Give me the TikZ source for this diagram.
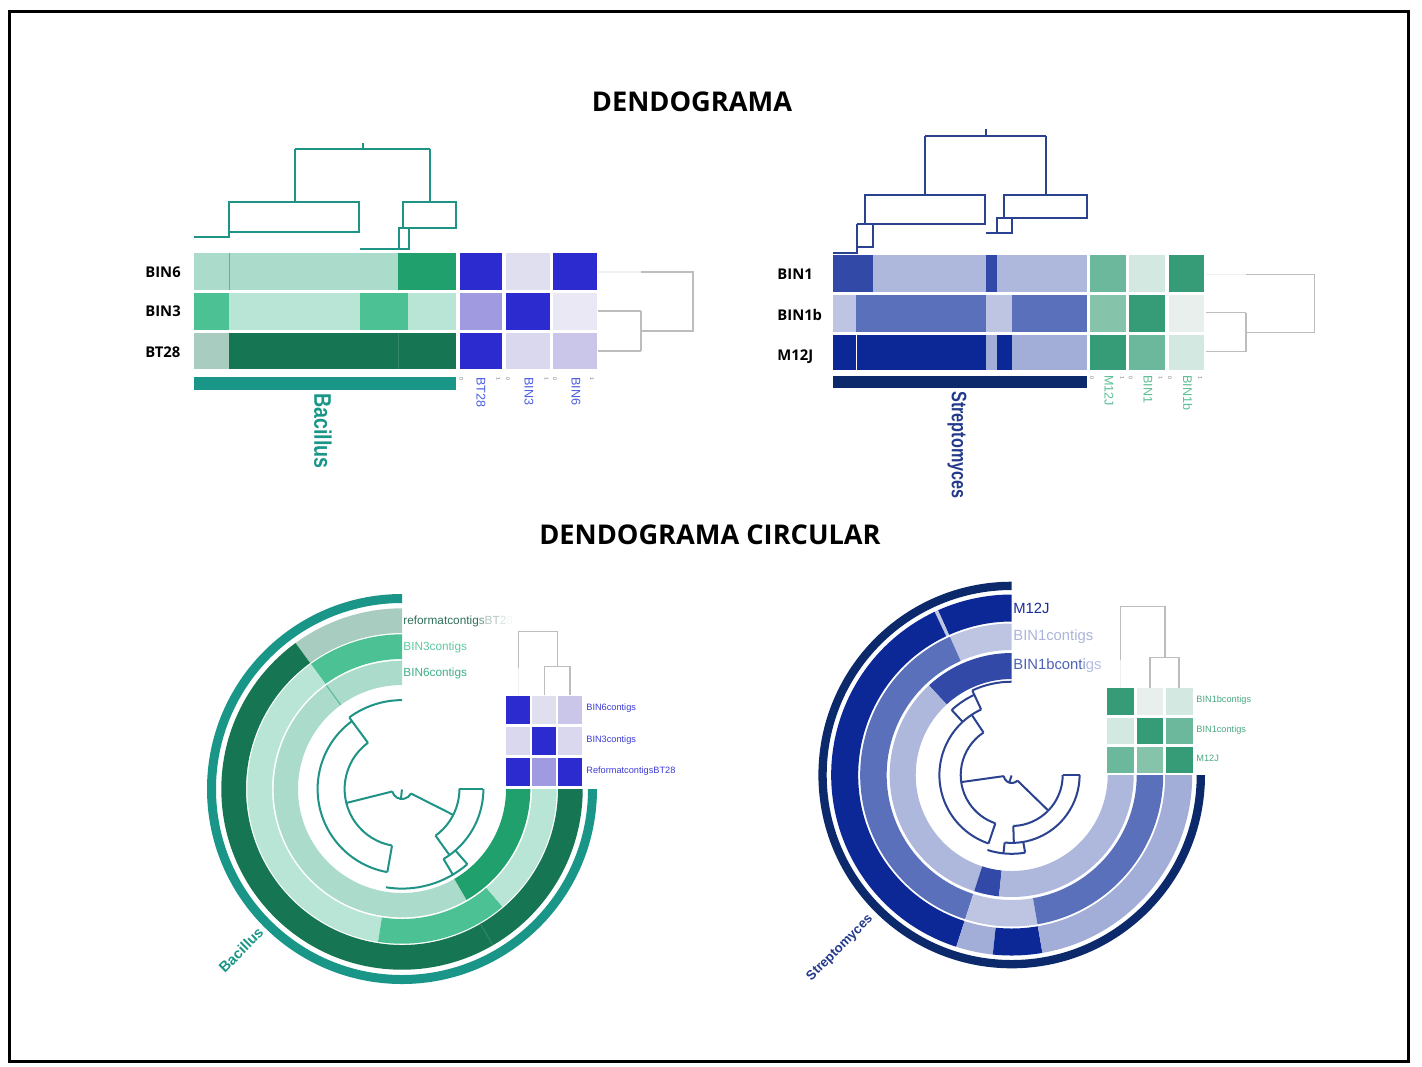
\documentclass[tikz,border=0pt]{standalone}
\usepackage{graphicx}
\usepackage{fontspec}
\setmainfont{Liberation Sans}
\newfontfamily\osans{Open Sans}
\definecolor{tealc}{HTML}{1A9688}
\definecolor{navyc}{HTML}{0C2A6B}
\definecolor{dteal}{HTML}{1F9386}
\definecolor{dnavy}{HTML}{2A4290}
\definecolor{gL1}{HTML}{ABDCCB}
\definecolor{gL2}{HTML}{B8E5D5}
\definecolor{gM}{HTML}{4CC294}
\definecolor{gG}{HTML}{20A06C}
\definecolor{gS}{HTML}{A8CDC0}
\definecolor{gD}{HTML}{167552}
\definecolor{pS}{HTML}{2B2BD0}
\definecolor{pM}{HTML}{A09BE0}
\definecolor{pL1}{HTML}{E0DFF0}
\definecolor{pL2}{HTML}{E9E8F4}
\definecolor{pL3}{HTML}{DAD8EF}
\definecolor{pL4}{HTML}{C9C6EA}
\definecolor{bD}{HTML}{3249A8}
\definecolor{bL}{HTML}{AEB8DC}
\definecolor{bP}{HTML}{BDC5E3}
\definecolor{bM}{HTML}{5B70BB}
\definecolor{bX}{HTML}{0B2896}
\definecolor{bQ}{HTML}{A3AED8}
\definecolor{hA}{HTML}{6CB89C}
\definecolor{hB}{HTML}{D3E8E0}
\definecolor{hC}{HTML}{369C78}
\definecolor{hD}{HTML}{85C3AA}
\definecolor{hE}{HTML}{E9EFEC}
\definecolor{gline}{HTML}{BDBDBD}
\definecolor{gfaint}{HTML}{F0F0F0}
\definecolor{plab}{HTML}{4B5EE0}
\definecolor{hlab}{HTML}{5DBF96}
\definecolor{slab}{HTML}{233A8C}
\newcommand{\annseg}[5]{\fill[#1] (#2:#4) arc[start angle=#2,end angle=#3,radius=#4] -- (#3:#5) arc[start angle=#3,end angle=#2,radius=#5] -- cycle;}
\newcommand{\parc}[4]{\draw[#1] (#3:#2) arc[start angle=#3,end angle=#4,radius=#2];}
\newcommand{\prad}[4]{\draw[#1] (#2:#3) -- (#2:#4);}
\begin{document}
\begin{tikzpicture}[x=0.5pt,y=-0.5pt,
  ttl/.style={font=\osans\bfseries\fontsize{13.6}{16}\selectfont, inner sep=0},
  rowlab/.style={font=\osans\bfseries\fontsize{7.4}{9}\selectfont, anchor=west, inner sep=0},
  collab/.style={font=\fontsize{6.3}{7}\selectfont, anchor=west, rotate=-90, inner sep=0},
  ticklab/.style={font=\fontsize{2.6}{3}\selectfont, text=black!55, anchor=west, rotate=-90, inner sep=0},
  ringlab/.style={font=\fontsize{5.9}{7}\selectfont, anchor=west, inner sep=0},
  ringlabB/.style={font=\fontsize{7.4}{9}\selectfont, anchor=west, inner sep=0},
  matlab/.style={font=\fontsize{4.6}{5.5}\selectfont, anchor=west, inner sep=0},
  dT/.style={draw=dteal, line width=1pt},
  dN/.style={draw=dnavy, line width=1pt},
  dG/.style={draw=gline, line width=0.75pt},
  dF/.style={draw=gfaint, line width=0.75pt},
]
\fill[white] (0,0) rectangle (1422,1066);
\useasboundingbox (0,0) rectangle (1422,1066);
\draw[line width=1.5pt] (9.5,11.5) rectangle (1408.5,1061.5);

\node[ttl] (title1) at (692,102) {DENDOGRAMA};
\node[ttl] (title2) at (710,535) {DENDOGRAMA CIRCULAR};

% ================= TOP LEFT (Bacillus) =================
\fill[gL1] (194,253) rectangle (398,289.5);
\fill[gG] (398,253) rectangle (456,289.5);
\draw[draw=gG!60!gL1, line width=0.5pt] (229,253) -- (229,289.5);
\fill[gM] (194,293) rectangle (229,329.5);
\fill[gL2] (229,293) rectangle (360,329.5);
\fill[gM] (360,293) rectangle (408,329.5);
\fill[gL2] (408,293) rectangle (456,329.5);
\fill[gS] (194,332.5) rectangle (229,369);
\fill[gD] (229,332.5) rectangle (456,369);
\draw[draw=gD!88!white, line width=0.4pt] (398,332.5) -- (398,369);
% purple matrix
\fill[pS] (460,253) rectangle (502,289.5);
\fill[pL1] (505.5,253) rectangle (549.5,289.5);
\fill[pS] (553,253) rectangle (597,289.5);
\fill[pM] (460,293) rectangle (502,329.5);
\fill[pS] (505.5,293) rectangle (549.5,329.5);
\fill[pL2] (553,293) rectangle (597,329.5);
\fill[pS] (460,332.5) rectangle (502,369);
\fill[pL3] (505.5,332.5) rectangle (549.5,369);
\fill[pL4] (553,332.5) rectangle (597,369);
% bar
\fill[tealc] (194,377) rectangle (456,390);
% dendrogram
\draw[dT] (362.6,143) -- (362.6,149);
\draw[dT] (295,149) -- (430,149);
\draw[dT] (295,149) -- (295,201.7);
\draw[dT] (430,149) -- (430,201.7);
\draw[dT] (229.3,201.7) rectangle (359,231.7);
\draw[dT] (229.3,231.7) -- (229.3,236.7) -- (193.7,236.7);
\draw[dT] (403.3,201.7) rectangle (455.9,228.3);
\draw[dT] (398.5,228.3) -- (403.3,228.3);
\draw[dT] (398.5,228.3) rectangle (408.5,248.8);
\draw[dT] (359.6,248.8) -- (398.5,248.8);
% gray dendrogram
\draw[dF] (598,272) -- (641,272);
\draw[dG] (641,272) -- (693,272) -- (693,331) -- (641,331);
\draw[dG] (641,311) -- (641,351);
\draw[dG] (598,311) -- (641,311);
\draw[dG] (598,351) -- (641,351);
% labels
\node[rowlab] (lBIN6) at (145,272) {BIN6};
\node[rowlab] (lBIN3) at (145,311.5) {BIN3};
\node[rowlab] (lBT28) at (145,352) {BT28};
\node[collab, text=plab] (cBT28) at (481,377) {BT28};
\node[collab, text=plab] (cBIN3) at (529,377) {BIN3};
\node[collab, text=plab] (cBIN6) at (576,377) {BIN6};
\node[ticklab] (tk1) at (461.5,377) {0};
\node[ticklab] (tk2) at (498.5,377) {1};
\node[ticklab] (tk3) at (507.8,377) {0};
\node[ticklab] (tk4) at (546.7,377) {1};
\node[ticklab] (tk5) at (555,377) {0};
\node[ticklab] (tk6) at (592,377) {1};
\node[font=\bfseries\fontsize{12}{14}\selectfont, text=tealc, anchor=west, rotate=-90, inner sep=0] (bacT) at (323,393) {\scalebox{0.82}[1]{Bacillus}};

% ================= TOP RIGHT (Streptomyces) =================
\fill[bD] (833.2,255) rectangle (873.4,291.5);
\fill[bL] (873.4,255) rectangle (985.6,291.5);
\fill[bD] (985.6,255) rectangle (996.8,291.5);
\fill[bL] (996.8,255) rectangle (1087.1,291.5);
\fill[bP] (833.2,295) rectangle (855.9,331.5);
\fill[bM] (855.9,295) rectangle (985.6,331.5);
\fill[bP] (985.6,295) rectangle (1011.7,331.5);
\fill[bM] (1011.7,295) rectangle (1087.1,331.5);
\fill[bX] (833.2,334.5) rectangle (855.9,370);
\fill[bX] (857.2,334.5) rectangle (985.6,370);
\fill[bQ] (985.6,334.5) rectangle (996.8,370);
\fill[bX] (996.8,334.5) rectangle (1011.7,370);
\fill[bQ] (1011.7,334.5) rectangle (1087.1,370);
% green matrix
\fill[hA] (1090,255) rectangle (1126,291.5);
\fill[hB] (1129,255) rectangle (1165,291.5);
\fill[hC] (1168.5,255) rectangle (1204,291.5);
\fill[hD] (1090,295) rectangle (1126,331.5);
\fill[hC] (1129,295) rectangle (1165,331.5);
\fill[hE] (1168.5,295) rectangle (1204,331.5);
\fill[hC] (1090,334.5) rectangle (1126,370);
\fill[hA] (1129,334.5) rectangle (1165,370);
\fill[hB] (1168.5,334.5) rectangle (1204,370);
% bar
\fill[navyc] (833.2,376) rectangle (1087.1,388);
% dendrogram
\draw[dN] (985.6,129.3) -- (985.6,135.7);
\draw[dN] (925.4,135.7) -- (1045.5,135.7);
\draw[dN] (925.4,135.7) -- (925.4,195);
\draw[dN] (1045.5,135.7) -- (1045.5,195);
\draw[dN] (864.8,195) rectangle (984.9,224.3);
\draw[dN] (856.7,224.3) -- (864.8,224.3);
\draw[dN] (856.7,224.3) -- (856.7,253.3) -- (833.2,253.3);
\draw[dN] (873.4,224.3) -- (873.4,246.7) -- (856.7,246.7);
\draw[dN] (1004.2,195) rectangle (1087.1,218.3);
\draw[dN] (996.8,218.3) -- (1004.2,218.3);
\draw[dN] (996.8,218.3) rectangle (1011.7,233.3);
\draw[dN] (985.6,233.3) -- (996.8,233.3);
% gray dendrogram
\draw[dF] (1206,274.3) -- (1246,274.3);
\draw[dG] (1246,274.3) -- (1314.6,274.3) -- (1314.6,332.3) -- (1246,332.3);
\draw[dG] (1246,312.7) -- (1246,351.7);
\draw[dG] (1206,312.7) -- (1246,312.7);
\draw[dG] (1206,351.7) -- (1246,351.7);
% labels
\node[rowlab] (lBIN1) at (777,274) {BIN1};
\node[rowlab] (lBIN1b) at (777,315) {BIN1b};
\node[rowlab] (lM12J) at (777,357) {M12J};
\node[collab, text=hlab] (cM12J) at (1109,375) {M12J};
\node[collab, text=hlab] (cBIN1) at (1148,375) {BIN1};
\node[collab, text=hlab] (cBIN1b) at (1187.5,375) {BIN1b};
\node[ticklab] (tk7) at (1092,376) {0};
\node[ticklab] (tk8) at (1122.5,376) {1};
\node[ticklab] (tk9) at (1130.6,376) {0};
\node[ticklab] (tk10) at (1160.7,376) {1};
\node[ticklab] (tk11) at (1170,376) {0};
\node[ticklab] (tk12) at (1200.5,376) {1};
\node[font=\bfseries\fontsize{10.5}{12}\selectfont, text=slab, anchor=west, rotate=-90, inner sep=0] (strT) at (957,391) {\scalebox{0.77}[1]{Streptomyces}};

% ================= BOTTOM LEFT circular =================
\begin{scope}[shift={(402,789)}, yscale=-1]
 \annseg{tealc}{90}{360}{186}{195}
 \annseg{gS}{90}{126.1}{156}{180.7}
 \annseg{gD}{126.1}{360}{156}{180.7}
 \prad{draw=gD!85!white, line width=0.4pt}{300.2}{156}{180.7}
 \annseg{gM}{90}{126.1}{130}{154.7}
 \annseg{gL2}{126.1}{261.1}{130}{154.7}
 \annseg{gM}{261.1}{310.5}{130}{154.7}
 \annseg{gL2}{310.5}{360}{130}{154.7}
 \annseg{gL1}{90}{300.2}{104}{128.3}
 \annseg{gG}{300.2}{360}{104}{128.3}
 \prad{draw=gG!60!gL1, line width=0.5pt}{126.1}{104}{128.3}
 \parc{dT}{10}{194.1}{333.2}
 \parc{dT}{57.4}{126.4}{260.0}
 \parc{dT}{84.4}{126.4}{260.0}
 \parc{dT}{88.9}{90}{126.4}
 \parc{dT}{57.4}{305.7}{360}
 \parc{dT}{81.4}{300.7}{360}
 \parc{dT}{99.6}{260.7}{311.0}
 \prad{dT}{263.7}{0.5}{10}
 \prad{dT}{194.1}{10}{57.4}
 \prad{dT}{333.2}{10}{57.4}
 \prad{dT}{260.0}{57.4}{84.4}
 \prad{dT}{126.4}{57.4}{88.9}
 \prad{dT}{360}{57.4}{81.4}
 \prad{dT}{305.7}{57.4}{81.4}
 \prad{dT}{300.7}{81.4}{99.6}
 \prad{dT}{311.0}{81.4}{99.6}
\end{scope}
% small purple matrix
\fill[pS] (506,695.7) rectangle (530,724);
\fill[pL1] (532.3,695.7) rectangle (556,724);
\fill[pL4] (558.3,695.7) rectangle (582.3,724);
\fill[pL3] (506,726.7) rectangle (530,755);
\fill[pS] (532.3,726.7) rectangle (556,755);
\fill[pL3] (558.3,726.7) rectangle (582.3,755);
\fill[pS] (506,757.7) rectangle (530,786);
\fill[pM] (532.3,757.7) rectangle (556,786);
\fill[pS] (558.3,757.7) rectangle (582.3,786);
\draw[dF] (518.3,668) -- (518.3,695);
\draw[dG] (518.3,668) -- (518.3,631.7) -- (557.3,631.7) -- (557.3,666.7);
\draw[dG] (544.3,695) -- (544.3,666.7) -- (570,666.7) -- (570,695);
\node[ringlab] (rBT28) at (403,621) {{\color[HTML]{2F6F57}reformatcontig}{\color[HTML]{6E9A88}s}{\color[HTML]{B2C8BF}BT}{\color[HTML]{D8E4DF}2}{\color[HTML]{F2F6F4}8}};
\node[ringlab, text={rgb,255:red,95;green,202;blue,160}] (rBIN3) at (403,647) {BIN3contigs};
\node[ringlab, text={rgb,255:red,63;green,176;blue,133}] (rBIN6) at (403,673) {BIN6contigs};
\node[matlab, text={rgb,255:red,59;green,59;blue,214}] (mBIN6) at (586,708) {BIN6contigs};
\node[matlab, text={rgb,255:red,59;green,59;blue,214}] (mBIN3) at (586,739.7) {BIN3contigs};
\node[matlab, text={rgb,255:red,59;green,59;blue,214}] (mBT28) at (586,771) {ReformatcontigsBT28};
\node[font=\bfseries\fontsize{7.3}{9}\selectfont, text=tealc, rotate=45, inner sep=0] (bacC) at (241,950) {Bacillus};

% ================= BOTTOM RIGHT circular =================
\begin{scope}[shift={(1011.7,775)}, yscale=-1]
 \annseg{navyc}{90}{360}{185}{193.3}
 \annseg{bX}{90}{114.1}{153.5}{180.5}
 \annseg{bP}{114.1}{115.3}{153.5}{180.5}
 \annseg{bX}{115.3}{252.1}{153.5}{180.5}
 \annseg{bQ}{252.1}{264.0}{153.5}{180.5}
 \annseg{bX}{264.0}{279.8}{153.5}{180.5}
 \annseg{bQ}{279.8}{360}{153.5}{180.5}
 \annseg{bP}{90}{114.1}{125}{151.5}
 \annseg{bM}{114.1}{252.1}{125}{151.5}
 \annseg{bP}{252.1}{279.8}{125}{151.5}
 \annseg{bM}{279.8}{360}{125}{151.5}
 \annseg{bD}{90}{132.7}{96}{122}
 \annseg{bL}{132.7}{252.1}{96}{122}
 \annseg{bD}{252.1}{264.0}{96}{122}
 \annseg{bL}{264.0}{360}{96}{122}
 \parc{dN}{8.0}{188.0}{315.8}
 \parc{dN}{51.0}{123.6}{251.3}
 \parc{dN}{72.3}{115.0}{251.3}
 \parc{dN}{88.5}{115.0}{132.7}
 \parc{dN}{93.3}{90}{115.0}
 \parc{dN}{51.0}{271.8}{360}
 \parc{dN}{67.9}{264.0}{360}
 \parc{dN}{78.8}{252.1}{279.8}
 \prad{dN}{252.1}{0.5}{8.0}
 \prad{dN}{188.0}{8}{51}
 \prad{dN}{315.8}{8}{51}
 \prad{dN}{123.6}{51}{72.3}
 \prad{dN}{251.3}{51}{72.3}
 \prad{dN}{115.0}{72.3}{93.3}
 \prad{dN}{132.7}{72.3}{88.5}
 \prad{dN}{271.8}{51}{67.9}
 \prad{dN}{360}{51}{67.9}
 \prad{dN}{264.0}{67.9}{78.8}
 \prad{dN}{279.8}{67.9}{78.8}
\end{scope}
% small green matrix
\fill[hC] (1106.7,688.3) rectangle (1134.3,715);
\fill[hE] (1136.7,688.3) rectangle (1163.3,715);
\fill[hB] (1166,688.3) rectangle (1192.7,715);
\fill[hB] (1106.7,717.7) rectangle (1134.3,744);
\fill[hC] (1136.7,717.7) rectangle (1163.3,744);
\fill[hA] (1166,717.7) rectangle (1192.7,744);
\fill[hA] (1106.7,746.7) rectangle (1134.3,773.3);
\fill[hD] (1136.7,746.7) rectangle (1163.3,773.3);
\fill[hC] (1166,746.7) rectangle (1192.7,773.3);
\draw[dF] (1120.7,660) -- (1120.7,688);
\draw[dG] (1120.7,660) -- (1120.7,606.7) -- (1165,606.7) -- (1165,657.3);
\draw[dG] (1150,688) -- (1150,657.3) -- (1179,657.3) -- (1179,688);
\node[ringlabB, text={rgb,255:red,26;green,43;blue,155}] (rM12J) at (1013,608) {M12J};
\node[ringlabB, text={rgb,255:red,170;green,180;blue,220}] (rBIN1) at (1013,637) {BIN1contigs};
\node[ringlabB] (rBIN1b) at (1013,666) {{\color[HTML]{4D62B6}BIN1bcont}{\color[HTML]{8A98CF}i}{\color[HTML]{B4BEE2}gs}};
\node[matlab, text={rgb,255:red,74;green,168;blue,130}] (mBIN1b) at (1196,700) {BIN1bcontigs};
\node[matlab, text={rgb,255:red,74;green,168;blue,130}] (mBIN1) at (1196,729.7) {BIN1contigs};
\node[matlab, text={rgb,255:red,74;green,168;blue,130}] (mM12J) at (1196,758) {M12J};
\node[font=\bfseries\fontsize{6.6}{8}\selectfont, text=slab, rotate=45, inner sep=0] (strC) at (840,948) {Streptomyces};
\end{tikzpicture}
\end{document}
